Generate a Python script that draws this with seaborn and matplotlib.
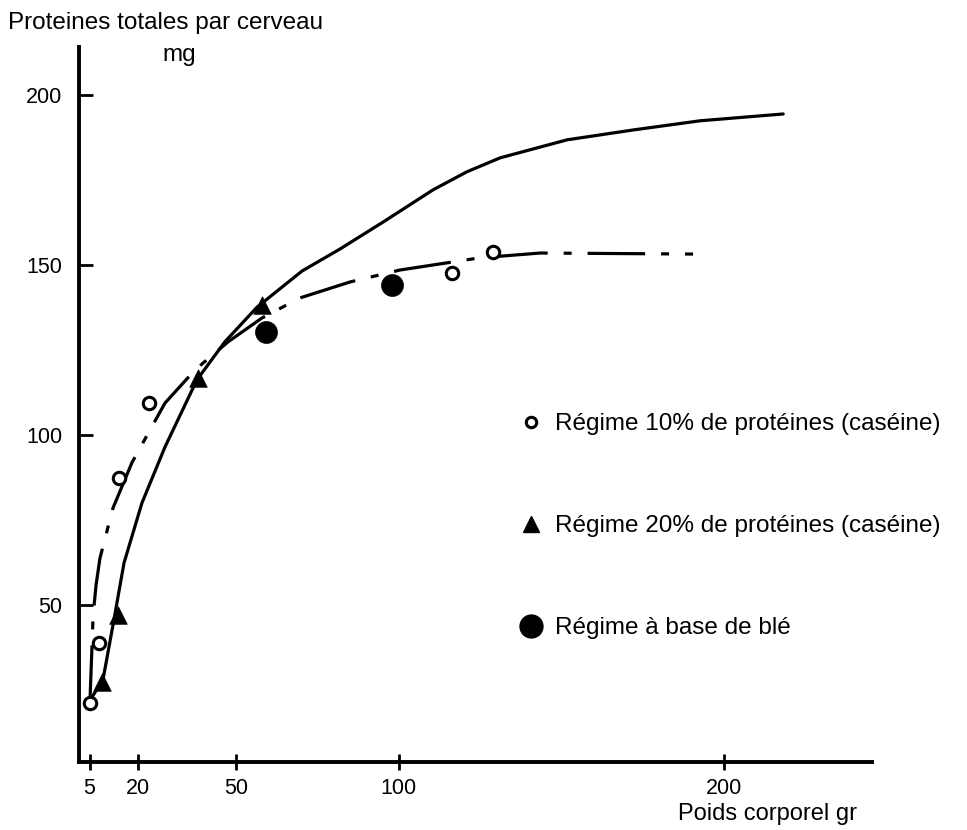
import matplotlib
matplotlib.use("Agg")
import matplotlib.pyplot as plt
from matplotlib.lines import Line2D
import seaborn as sns

# Measured brain protein (mg) against body weight (g)
casein10_weight = [5.1, 7.9, 14.1, 23.3, 116.4, 129.0]
casein10_protein = [21.2, 38.8, 87.4, 109.4, 147.6, 153.8]
casein20_weight = [8.8, 13.7, 38.3, 58.0]
casein20_protein = [27.4, 47.0, 116.8, 138.2]
wheat_weight = [59.3, 97.9]
wheat_protein = [130.3, 144.1]

# Hand-fitted trend curves
curve20_weight = [5.75, 9.1, 12.2, 15.6, 21.1, 28.2, 38.0, 46.6, 56.5, 70.3,
                  82.0, 95.2, 110.6, 121.0, 131.2, 151.8, 172.1, 192.7, 218.2]
curve20_protein = [22.9, 27.9, 44.1, 62.4, 80.0, 96.5, 116.2, 127.4, 137.6, 148.2,
                   154.7, 162.6, 172.1, 177.4, 181.5, 186.8, 189.7, 192.4, 194.4]
curve10_weight = [5.1, 5.7, 6.1, 7.0, 8.2, 12.2, 18.0, 23.6, 28.2, 37.4, 47.6,
                  58.0, 69.7, 85.1, 100.4, 125.0, 143.5, 190.5]
curve10_protein = [21.2, 36.8, 47.1, 55.9, 63.8, 78.5, 91.8, 101.5, 109.4, 119.1,
                   127.4, 134.4, 140.3, 145.0, 148.5, 152.1, 153.5, 153.2]

x_ticks = [5, 20, 50, 100, 200]
y_ticks = [50, 100, 150, 200]

labels = ["Régime 10% de protéines (caséine)",
          "Régime 20% de protéines (caséine)",
          "Régime à base de blé"]

sns.set_theme(style="white")
plt.rcParams["font.family"] = ["Liberation Sans", "DejaVu Sans"]
for key in ("text.color", "axes.labelcolor", "xtick.color", "ytick.color"):
    plt.rcParams[key] = "black"

fig = plt.figure(figsize=(9.67, 8.3), dpi=100)
ax = fig.add_axes([79 / 967, 1 - 762 / 830, (872 - 79) / 967, (762 - 47) / 830])

sns.lineplot(x=curve20_weight, y=curve20_protein, ax=ax, color="black",
             linewidth=2.3, sort=False, estimator=None)
sns.lineplot(x=curve10_weight, y=curve10_protein, ax=ax, color="black",
             linewidth=2.3, sort=False, estimator=None)
ax.lines[-1].set_dashes([18, 5, 2.5, 5])

sns.scatterplot(x=casein10_weight, y=casein10_protein, ax=ax, marker="o", s=80,
                color="white", edgecolor="black", linewidth=2.2, zorder=3)
sns.scatterplot(x=casein20_weight, y=casein20_protein, ax=ax, marker="^", s=160,
                color="black", edgecolor="black", linewidth=0.5, zorder=3)
sns.scatterplot(x=wheat_weight, y=wheat_protein, ax=ax, marker="o", s=250,
                color="black", edgecolor="black", linewidth=0.5, zorder=3)

ax.set_xlim(1.75, 245.5)
ax.set_ylim(3.8, 214.1)
ax.set_xticks(x_ticks)
ax.set_xticklabels([str(v) for v in x_ticks])
ax.set_yticks(y_ticks)
ax.set_yticklabels([str(v) for v in y_ticks])
ax.tick_params(axis="x", direction="inout", length=11, width=2, colors="black",
               labelsize=15.5, pad=6, bottom=True)
ax.tick_params(axis="y", direction="in", length=10, width=2, colors="black",
               labelsize=15.5, pad=12, left=True)
sns.despine(ax=ax)
for side in ("left", "bottom"):
    ax.spines[side].set_linewidth(2.8)
    ax.spines[side].set_color("black")
ax.set_xlabel("")
ax.set_ylabel("")

fig.text(8 / 967, 1 - 23 / 830, "Proteines totales par cerveau",
         ha="left", va="center", fontsize=17.5, color="black")
fig.text(179 / 967, 1 - 55 / 830, "mg", ha="center", va="center",
         fontsize=17.5, color="black")
fig.text(678 / 967, 1 - 814 / 830, "Poids corporel gr", ha="left",
         va="center", fontsize=17, color="black")

handles = [
    Line2D([], [], ls="none", marker="o", ms=7.5, mfc="white", mec="black", mew=2.2),
    Line2D([], [], ls="none", marker="^", ms=12, mfc="black", mec="black"),
    Line2D([], [], ls="none", marker="o", ms=16.5, mfc="black", mec="black"),
]
fig.legend(handles, labels, loc="upper left",
           bbox_to_anchor=(516 / 967, 1 - 413 / 830), frameon=False,
           fontsize=17.5, labelspacing=3.3, handlelength=1.2, handletextpad=0.39,
           borderpad=0, borderaxespad=0, labelcolor="black")

fig.savefig("out.png", dpi=100, facecolor="white")
